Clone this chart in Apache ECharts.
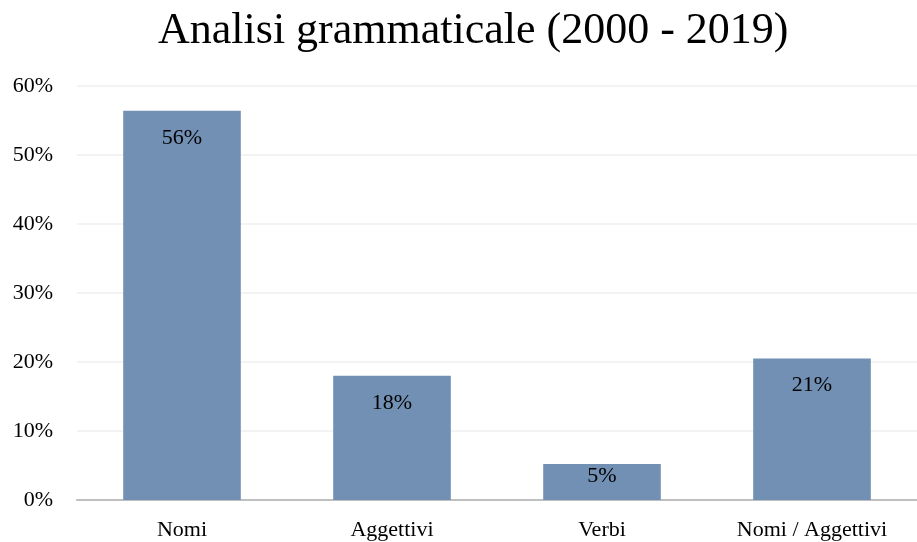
<!DOCTYPE html>
<html>
<head>
<meta charset="utf-8">
<script src="https://cdn.jsdelivr.net/npm/echarts@6/dist/echarts.min.js"></script>
<style>html,body{margin:0;padding:0;background:#fff;}#c{width:917px;height:542px;}</style>
</head>
<body>
<div id="c"></div>
<script>
const categories = ['Nomi', 'Aggettivi', 'Verbi', 'Nomi / Aggettivi'];
const values = [56.4, 18.0, 5.2, 20.5];
const valueLabels = ['56%', '18%', '5%', '21%'];
const titleText = 'Analisi grammaticale (2000 - 2019)';

const chart = echarts.init(document.getElementById('c'));
const font = '"Liberation Serif", "Times New Roman", serif';
const seriesData = values.map(v => v < 8 ? { value: v, label: { distance: 1 } } : v);
chart.setOption({
  animation: false,
  title: {
    text: titleText, left: 153, top: 4,
    textStyle: { fontFamily: font, fontSize: 44, fontWeight: 'normal', color: '#000' }
  },
  grid: { left: 77, right: 0, top: 86, bottom: 42 },
  xAxis: {
    type: 'category', data: categories,
    axisLine: { lineStyle: { color: '#bfbfbf', width: 2 } },
    axisTick: { show: false },
    axisLabel: { fontFamily: font, fontSize: 22, color: '#000', margin: 19 }
  },
  yAxis: {
    type: 'value', min: 0, max: 60, interval: 10,
    axisLine: { show: false }, axisTick: { show: false },
    splitLine: { lineStyle: { color: '#efefef', width: 1.5 } },
    axisLabel: { fontFamily: font, fontSize: 22, color: '#000', margin: 24, formatter: v => v + '%' }
  },
  series: [{
    type: 'bar', data: seriesData, barWidth: '56%',
    itemStyle: { color: '#7190b3' },
    label: {
      show: true, position: 'insideTop', distance: 16,
      fontFamily: font, fontSize: 22, color: '#000',
      formatter: p => valueLabels[p.dataIndex]
    }
  }]
});
</script>
</body>
</html>
